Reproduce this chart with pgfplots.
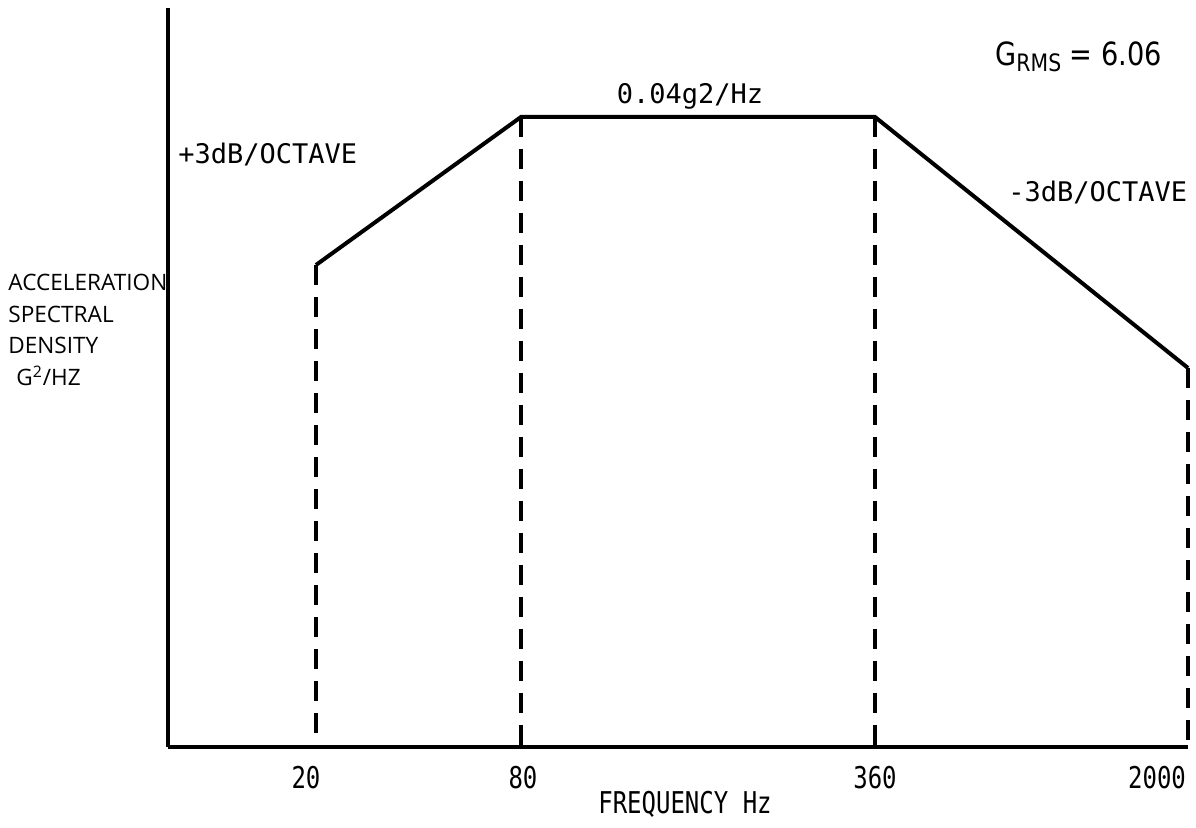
\documentclass[border=0pt]{standalone}
\usepackage{fontspec}
\setmainfont{Open Sans}
\newfontfamily\monof{DejaVu Sans Mono}
\newfontfamily\narrowf[FakeStretch=0.8]{DejaVu Sans Mono}
\newfontfamily\grmsf[FakeStretch=0.85]{DejaVu Sans}
\usepackage{pgfplots}
\pgfplotsset{compat=1.18}
\newcommand\tl[2]{\makebox[0pt]{\kern#1#2\kern-#1}}
\begin{document}
\begin{tikzpicture}[x=1pt,y=1pt]
\useasboundingbox (0,0) rectangle (598,414);
\begin{axis}[
  at={(84pt,40.5pt)}, anchor=south west,
  scale only axis, width=510pt, height=369.5pt,
  xmin=168, xmax=1188, ymin=81, ymax=820,
  axis x line*=bottom, axis y line*=left,
  axis line style={line width=2pt, -},
  xtick={315,523,875,1187},
  xticklabels={\tl{-4.5pt}{20},80,\raisebox{2pt}{360},\tl{-15pt}{2000}},
  ytick=\empty, major tick length=0pt,
  xticklabel style={font=\narrowf\fontsize{15}{15}\selectfont, yshift=-6pt},
  clip=false,
]
% spectrum outline
\addplot[line width=2pt, black] coordinates {(316,563) (521,711) (875,711) (1188,460)};
% dashed drop lines
\addplot[line width=2pt, black, dash pattern=on 10pt off 6pt] coordinates {(316,563) (316,81)};
\addplot[line width=2pt, black, dash pattern=on 10pt off 6pt] coordinates {(521,711) (521,81)};
\addplot[line width=2pt, black, dash pattern=on 10pt off 6pt] coordinates {(875,711) (875,81)};
\addplot[line width=2pt, black, dash pattern=on 10pt off 6pt] coordinates {(1188,460) (1188,81)};

\node[anchor=west, font=\monof\fontsize{13.5}{13.5}\selectfont, inner sep=0] at (axis cs:178,673) {+3dB/OCTAVE};
\node[font=\monof\fontsize{13.5}{13.5}\selectfont, inner sep=0] at (axis cs:690,732) {0.04g2/Hz};
\node[anchor=west, font=\monof\fontsize{13.5}{13.5}\selectfont, inner sep=0] at (axis cs:1008,635) {-3dB/OCTAVE};
\node[anchor=west, font=\grmsf\fontsize{16}{16}\selectfont, inner sep=0] at (axis cs:995,771) {G{\fontsize{12}{12}\selectfont\raisebox{-3pt}{RMS}} = 6.06};
\node[font=\narrowf\fontsize{15}{15}\selectfont, inner sep=0] at (axis cs:685,24) {FREQUENCY Hz};
\node[anchor=north west, align=left, inner sep=0, font=\fontsize{11.3}{15.8}\selectfont] at (axis cs:8,554)
  {ACCELERATION\\SPECTRAL\\DENSITY\\\hspace*{4pt}G\textsuperscript{2}/HZ};
\end{axis}
\end{tikzpicture}
\end{document}
